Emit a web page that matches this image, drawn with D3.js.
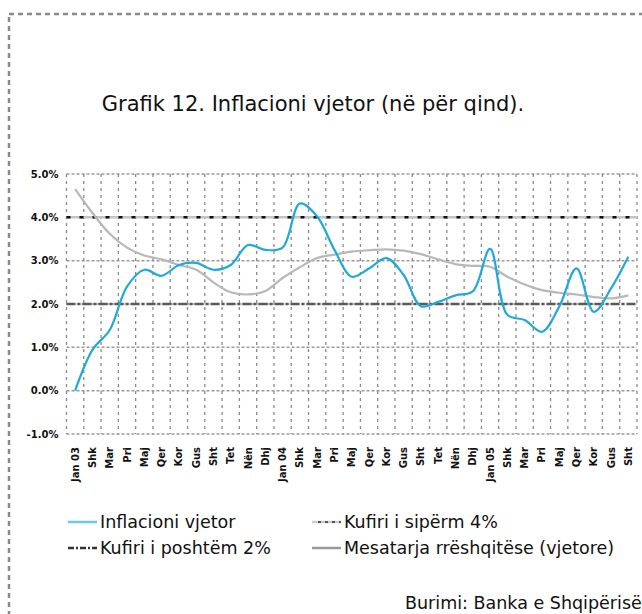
<!DOCTYPE html>
<html lang="sq">
  <head>
    <meta charset="utf-8">
    <title>Grafik 12</title>
    <script type="text/javascript" src="https://d3js.org/d3.v7.min.js"></script>
  </head>
  <style>
    body { margin: 0; background: #fff; }
    text { font-family: "DejaVu Sans", "Liberation Sans", sans-serif; fill: #111; }
  </style>
  <body>
    <svg class="chart"></svg>
  </body>

  <script>
    //Data (monthly)
    var months = ["Jan 03", "Shk", "Mar", "Pri", "Maj", "Qer", "Kor", "Gus", "Sht", "Tet", "Nën", "Dhj",
                  "Jan 04", "Shk", "Mar", "Pri", "Maj", "Qer", "Kor", "Gus", "Sht", "Tet", "Nën", "Dhj",
                  "Jan 05", "Shk", "Mar", "Pri", "Maj", "Qer", "Kor", "Gus", "Sht"];
    var inflation = [0.0, 0.94, 1.4, 2.4, 2.79, 2.65, 2.9, 2.95, 2.79, 2.9, 3.36, 3.25,
                     3.3, 4.32, 4.02, 3.25, 2.63, 2.82, 3.06, 2.67, 1.95, 2.05, 2.2, 2.29,
                     3.27, 1.75, 1.63, 1.36, 1.94, 2.82, 1.82, 2.36, 3.09];
    var movingAvg = [4.65, 4.1, 3.62, 3.3, 3.12, 3.03, 2.9, 2.79, 2.5, 2.27, 2.22, 2.3,
                     2.6, 2.85, 3.06, 3.14, 3.21, 3.24, 3.26, 3.23, 3.15, 3.03, 2.92, 2.88,
                     2.86, 2.63, 2.45, 2.32, 2.26, 2.22, 2.16, 2.13, 2.2];
    var upperBound = 4;
    var lowerBound = 2;
    var yTicks = [-1, 0, 1, 2, 3, 4, 5];

    //Constants
    const width = 642, height = 614;
    const plotLeft = 66.5, plotRight = 637, plotTop = 174, plotBottom = 434;

    var svg = d3.select(".chart")
      .attr("width", width)
      .attr("height", height);

    //dashed frame around the figure
    svg.append("rect")
      .attr("x", 9).attr("y", 14)
      .attr("width", 660).attr("height", 640)
      .attr("fill", "none")
      .attr("stroke", "#8a8a8a")
      .attr("stroke-width", 2.5)
      .attr("stroke-dasharray", "5,4");

    svg.append("text")
      .attr("x", 313).attr("y", 104)
      .attr("dy", "0.35em")
      .attr("text-anchor", "middle")
      .style("font-size", "21px")
      .text("Grafik 12. Inflacioni vjetor (në për qind).");

    var x = d3.scaleBand()
      .domain(d3.range(months.length))
      .range([plotLeft, plotRight]);

    var y = d3.scaleLinear()
      .domain([-1, 5])
      .range([plotBottom, plotTop]);

    //grid
    var grid = svg.append("g");
    grid.selectAll(".hgrid")
      .data(yTicks)
      .enter().append("line")
        .attr("class", "hgrid")
        .attr("x1", plotLeft).attr("x2", plotRight)
        .attr("y1", d=>y(d)).attr("y2", d=>y(d))
        .attr("stroke", "#9a9a9a")
        .attr("stroke-width", 1.5)
        .attr("stroke-dasharray", "3,2");

    grid.selectAll(".vgrid")
      .data(d3.range(months.length + 1))
      .enter().append("line")
        .attr("class", "vgrid")
        .attr("x1", d=>plotLeft + d * x.step()).attr("x2", d=>plotLeft + d * x.step())
        .attr("y1", plotTop).attr("y2", plotBottom)
        .attr("stroke", "#8a8a8a")
        .attr("stroke-width", 1.3)
        .attr("stroke-dasharray", "3,4");

    //y axis labels
    var yAxis = d3.axisLeft(y)
      .tickValues(yTicks)
      .tickSize(0)
      .tickPadding(8)
      .tickFormat(d=>d.toFixed(1) + "%");
    svg.append("g")
      .attr("transform", "translate(" + plotLeft + ",0)")
      .call(yAxis)
      .call(g=>g.select(".domain").remove())
      .selectAll("text")
        .style("font-family", "'DejaVu Sans', sans-serif")
        .style("font-size", "10px")
        .style("font-weight", "bold")
        .attr("fill", "#222");

    //x axis labels, rotated
    var xAxis = d3.axisBottom(x)
      .tickSize(0)
      .tickFormat(i=>months[i]);
    svg.append("g")
      .attr("transform", "translate(0," + plotBottom + ")")
      .call(xAxis)
      .call(g=>g.select(".domain").remove())
      .selectAll("text")
        .style("font-family", "'DejaVu Sans', sans-serif")
        .style("font-size", "10px")
        .style("font-weight", "bold")
        .attr("fill", "#222")
        .attr("text-anchor", "end")
        .attr("dy", "0.35em")
        .attr("transform", "translate(0,13) rotate(-90)")
        .attr("x", 0).attr("y", 0);

    var xc = i=>x(i) + x.bandwidth() / 2;

    //target band lines
    var bounds = svg.append("g");
    bounds.append("line")
      .attr("x1", plotLeft).attr("x2", plotRight)
      .attr("y1", y(upperBound)).attr("y2", y(upperBound))
      .attr("stroke", "#c4c4c4").attr("stroke-width", 2.5);
    bounds.append("line")
      .attr("x1", plotLeft).attr("x2", plotRight)
      .attr("y1", y(upperBound)).attr("y2", y(upperBound))
      .attr("stroke", "#111").attr("stroke-width", 2.5)
      .attr("stroke-dasharray", "4,9");
    bounds.append("line")
      .attr("x1", plotLeft).attr("x2", plotRight)
      .attr("y1", y(lowerBound)).attr("y2", y(lowerBound))
      .attr("stroke", "#5a5a5a").attr("stroke-width", 2.5)
      .attr("stroke-dasharray", "9,2,3,2");

    var line = d3.line()
      .x((d,i)=>xc(i))
      .y(d=>y(d))
      .curve(d3.curveCatmullRom.alpha(0.5));

    svg.append("path")
      .datum(movingAvg)
      .attr("fill", "none")
      .attr("stroke", "#b8b8b8")
      .attr("stroke-width", 2.2)
      .attr("d", line);

    svg.append("path")
      .datum(inflation)
      .attr("fill", "none")
      .attr("stroke", "#21aad6")
      .attr("stroke-width", 2.2)
      .attr("d", line);

    //legend
    var legend = svg.append("g");
    var items = [
      {label: "Inflacioni vjetor", x: 68, y: 522, color: "#6dc8e2", dash: null},
      {label: "Kufiri i sipërm 4%", x: 312, y: 522, color: "#cccccc", dash: null, dots: true},
      {label: "Kufiri i poshtëm 2%", x: 68, y: 548, color: "#333", dash: "6,2,2,2"},
      {label: "Mesatarja rrëshqitëse (vjetore)", x: 312, y: 548, color: "#999", dash: null}
    ];
    items.forEach(function(it) {
      legend.append("line")
        .attr("x1", it.x).attr("x2", it.x + 29)
        .attr("y1", it.y).attr("y2", it.y)
        .attr("stroke", it.color)
        .attr("stroke-width", 2.5)
        .attr("stroke-dasharray", it.dash);
      if (it.dots) {
        legend.append("line")
          .attr("x1", it.x + 6).attr("x2", it.x + 29)
          .attr("y1", it.y).attr("y2", it.y)
          .attr("stroke", "#555")
          .attr("stroke-width", 2)
          .attr("stroke-dasharray", "3,4");
      }
      legend.append("text")
        .attr("x", it.x + 32).attr("y", it.y)
        .attr("dy", "0.35em")
        .style("font-size", "17.5px")
        .text(it.label);
    });

    svg.append("text")
      .attr("x", 405).attr("y", 603)
      .attr("dy", "0.35em")
      .style("font-size", "17.5px")
      .text("Burimi: Banka e Shqipërisë");
  </script>
</html>
